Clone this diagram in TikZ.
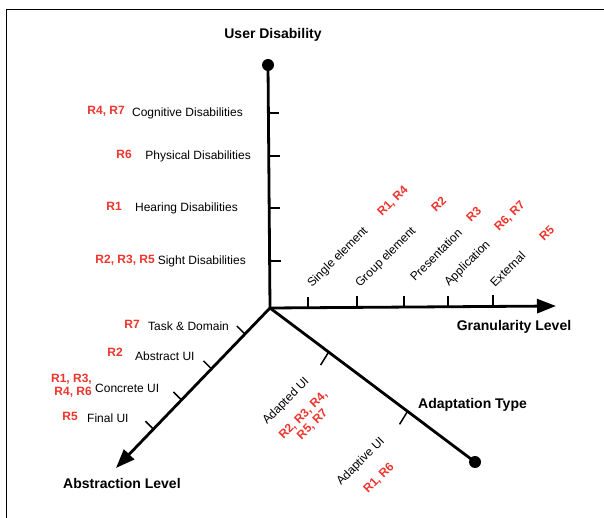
\documentclass[tikz,border=0pt]{standalone}
\usepackage{fontspec}
\setmainfont{Liberation Sans}
\usepackage{xcolor}
\usepackage{tikz}
\usetikzlibrary{positioning,calc,arrows.meta}
\definecolor{reqred}{RGB}{238,52,45}

\begin{document}
\begin{tikzpicture}[x=1pt, y=-1pt,
	axis/.style={line width=2.8pt},
	tickmark/.style={line width=1.5pt},
	lbl/.style={inner sep=0, font=\fontsize{12}{13}\selectfont},
	req/.style={inner sep=0, text=reqred, font=\fontsize{12}{13}\selectfont\bfseries},
	axtitle/.style={inner sep=0, font=\fontsize{14}{16}\selectfont\bfseries}]
	\useasboundingbox (0,0) rectangle (604,518);
	\draw[line width=0.8pt] (604,9) -- (6,9) -- (6,518);
	% axes
	\coordinate (o) at (270,308);
	\coordinate (ud) at (268,65);
	\coordinate (gl) at (556,306);
	\coordinate (al) at (116,468);
	\coordinate (at) at (475,462);
	\draw[axis] (o) -- (ud);
	\fill (ud) circle (6pt);
	\draw[axis, -{Triangle[length=19pt, width=14pt]}] (o) -- (gl);
	\draw[axis, -{Triangle[length=19pt, width=14pt]}] (o) -- (al);
	\draw[axis] (o) -- (at);
	\fill (at) circle (6pt);
	% ticks
	\foreach \p in {0.802,0.626,0.412,0.193}
		\draw[tickmark] ($(o)!\p!(ud)$) -- ++(11,0);
	\foreach \p in {0.133,0.304,0.469,0.622,0.780}
		\draw[tickmark] ($(o)!\p!(gl)$) -- ++(0,-11);
	\foreach \p in {0.163,0.38,0.575,0.757}
		\draw[tickmark] ($(o)!\p!(al)$) -- ++(-8,-8);
	\foreach \p in {0.286,0.671}
		\draw[tickmark] ($(o)!\p!(at)$) -- ++(-8,13);
	% axis titles
	\node[axtitle] (udt) at (273,35) {User Disability};
	\node[axtitle] (glt) at (514,327) {Granularity Level};
	\node[axtitle, anchor=west] (att) at (418,405) {Adaptation Type};
	\node[axtitle, anchor=west] (alt) at (63,483) {Abstraction Level};
	% user disability
	\node[lbl, anchor=east] (cog) at (243,113) {Cognitive Disabilities};
	\node[req, anchor=east] (cogr) at (125,111) {R4, R7};
	\node[lbl, anchor=east] (phy) at (251,156) {Physical Disabilities};
	\node[req, anchor=east] (phyr) at (132,154) {R6};
	\node[lbl, anchor=east] (hea) at (238,208) {Hearing Disabilities};
	\node[req, anchor=east] (hear) at (122,206) {R1};
	\node[lbl, anchor=east] (sig) at (246,261) {Sight Disabilities};
	\node[req, anchor=east] (sigr) at (155,260) {R2, R3, R5};
	% granularity level
	\node[lbl, rotate=45, anchor=base west] (sgl) at (312,288) {Single element};
	\node[req, rotate=45, anchor=base west] (sglr) at (382,217) {R1, R4};
	\node[lbl, rotate=45, anchor=base west] (grp) at (360,288) {Group element};
	\node[req, rotate=45, anchor=base west] (grpr) at (436,213) {R2};
	\node[lbl, rotate=45, anchor=base west] (pre) at (415,282) {Presentation};
	\node[req, rotate=45, anchor=base west] (prer) at (471,223) {R3};
	\node[lbl, rotate=45, anchor=base west] (app) at (449,287) {Application};
	\node[req, rotate=45, anchor=base west] (appr) at (499,232) {R6, R7};
	\node[lbl, rotate=45, anchor=base west] (ext) at (495,288) {External};
	\node[req, rotate=45, anchor=base west] (extr) at (544,242) {R5};
	% abstraction level
	\node[lbl, anchor=west] (tsk) at (148,326) {Task \& Domain};
	\node[req, anchor=east] (tskr) at (140,324) {R7};
	\node[lbl, anchor=west] (abs) at (135,356) {Abstract UI};
	\node[req, anchor=east] (absr) at (123,352) {R2};
	\node[lbl, anchor=west] (con) at (95,388) {Concrete UI};
	\node[req, anchor=east, align=right] (conr) at (92,386) {R1, R3,\\R4, R6};
	\node[lbl, anchor=west] (fin) at (87,418) {Final UI};
	\node[req, anchor=east] (finr) at (78,416) {R5};
	% adaptation type
	\node[lbl, rotate=45, anchor=base west] (adp) at (267,425) {Adapted UI};
	\node[req, rotate=45, align=center] (adpr) at (308,420) {R2, R3, R4,\\R5, R7};
	\node[lbl, rotate=45, anchor=base west] (adv) at (341,486) {Adaptive UI};
	\node[req, rotate=45, anchor=base west] (advr) at (368,494) {R1, R6};
\end{tikzpicture}
\end{document}
